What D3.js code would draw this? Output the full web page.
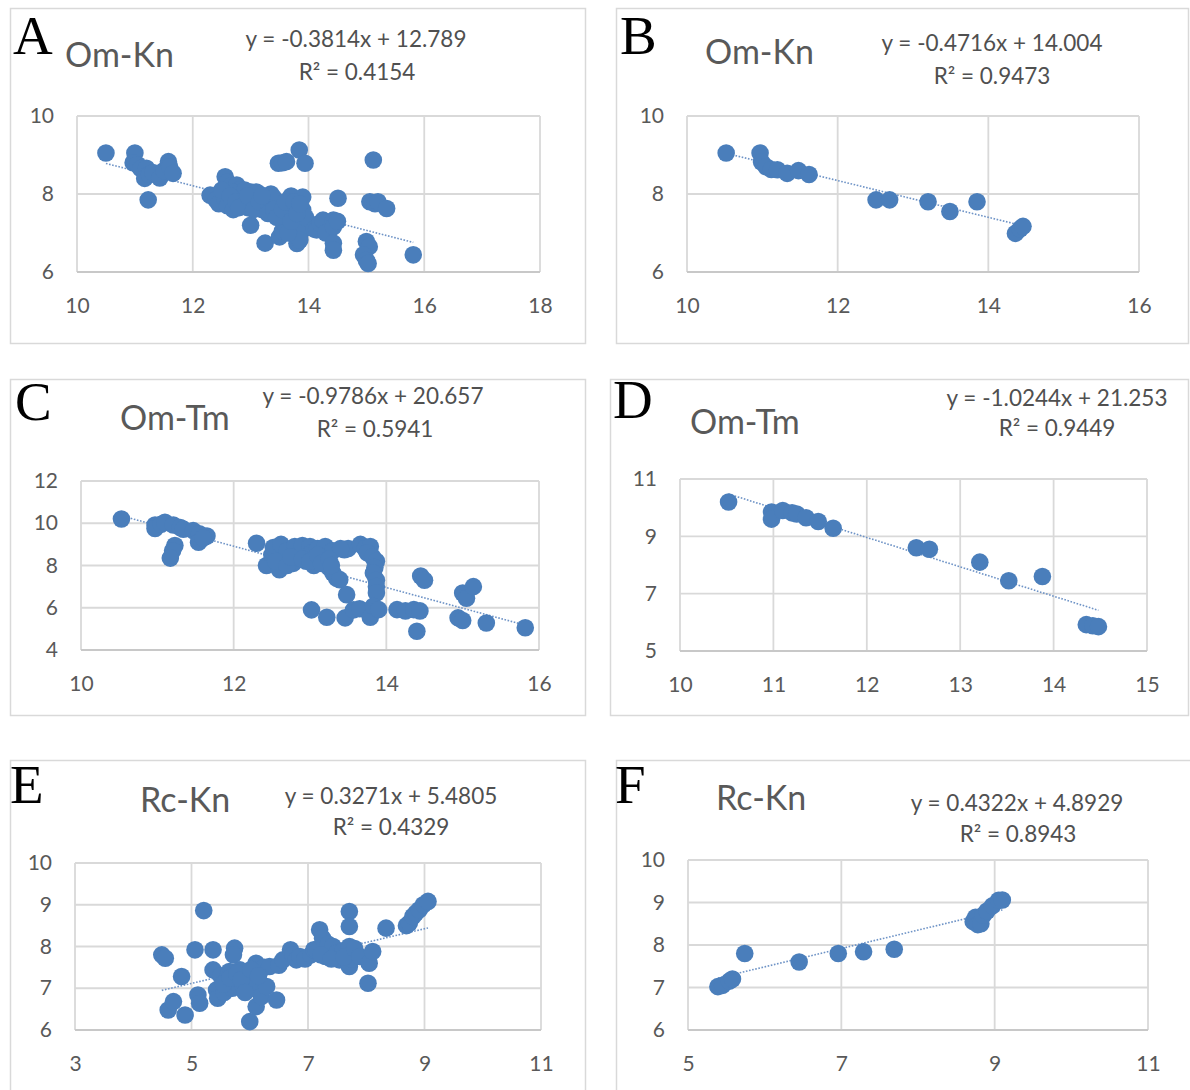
<!DOCTYPE html>
<html>
<head>
<meta charset="utf-8">
<script src="https://cdn.jsdelivr.net/npm/d3@7"></script>
<style>
  body { margin: 0; background: #fff; }
  svg { display: block; }
</style>
</head>
<body>
<svg id="mainsvg" width="1190" height="1090"></svg>
<script>
// ---- data ----
const omKnAll = [[10.5,9.05],[11.0,9.05],[10.97,8.8],[11.05,8.75],[11.1,8.65],[11.2,8.66],[11.17,8.4],[11.25,8.5],
  [11.31,8.55],[11.43,8.41],[11.5,8.6],[11.58,8.83],[11.6,8.7],[11.66,8.53],[11.23,7.85],
  [12.3,7.97],[12.4,7.85],[12.45,7.75],[12.56,8.44],[12.6,8.3],[12.65,8.2],[12.55,7.9],[12.6,7.7],[12.7,7.6],
  [12.76,8.23],[12.8,8.1],[12.85,7.95],[12.9,7.8],[12.95,7.65],[13.0,8.05],[13.05,7.9],[13.1,7.75],[13.15,8.0],
  [13.2,7.6],[13.25,7.85],[13.3,7.7],[13.35,7.55],[13.4,7.9],[13.45,7.65],[13.5,7.5],[13.0,7.2],[13.25,6.74],
  [13.5,6.9],[13.55,7.05],[13.6,7.2],[13.65,7.4],[13.7,7.95],[13.75,7.6],[13.8,7.3],[13.8,6.73],[13.85,7.0],
  [13.9,7.92],[13.9,7.59],[13.9,7.08],[13.85,6.82],[13.95,7.4],[13.48,8.79],[13.55,8.8],[13.62,8.83],[13.84,9.13],
  [13.94,8.79],[12.7,8.05],[12.9,8.1],[13.1,8.05],[13.35,8.0],
  [12.5,8.1],[12.65,7.95],[12.75,7.8],[12.8,7.65],[12.95,7.95],[13.05,7.6],[13.15,7.8],[13.2,7.95],[13.3,7.5],
  [13.4,7.6],[13.45,7.4],[13.55,7.6],[13.6,7.8],[13.65,7.0],[13.7,7.3],[13.75,7.8],[13.8,7.5],[13.85,7.75],
  [14.1,7.1],[14.14,7.08],[14.2,7.25],[14.25,7.33],[14.3,7.0],[14.43,7.33],[14.43,7.16],[14.5,7.3],[14.51,7.89],
  [14.43,6.74],[14.43,6.56],[15.0,6.78],[15.05,6.65],[14.95,6.44],[15.0,6.3],[15.03,6.22],[15.06,7.8],[15.12,8.87],
  [15.15,7.75],[15.2,7.8],[15.35,7.63],[15.81,6.44]];

const omKnSel = [[10.52,9.05],[10.97,9.05],[10.99,8.82],[11.05,8.7],[11.12,8.63],[11.2,8.62],[11.33,8.53],[11.48,8.6],
  [11.62,8.5],[12.51,7.85],[12.69,7.85],[13.2,7.8],[13.49,7.55],[13.85,7.8],[14.36,6.99],[14.42,7.1],[14.46,7.17]];

const omTmAll = [[10.53,10.2],[10.97,9.92],[10.97,9.75],[11.05,9.95],[11.1,10.05],[11.21,9.92],[11.3,9.8],[11.34,9.72],
  [11.47,9.65],[11.55,9.5],[11.65,9.4],[11.54,9.1],[11.6,9.3],[11.23,8.95],[11.2,8.7],[11.17,8.35],
  [12.3,9.05],[12.43,8.0],[12.5,8.5],[12.52,8.85],[12.6,7.8],[12.62,9.0],[12.65,8.3],[12.7,8.7],[12.78,8.1],
  [12.8,8.9],[12.85,8.5],[12.9,8.95],[12.95,8.2],[13.0,8.9],[13.02,8.6],[13.05,8.0],[13.1,8.8],[13.15,8.4],
  [13.2,8.9],[13.22,8.1],[13.25,7.9],[13.3,8.7],[13.3,7.64],[13.35,7.4],[13.39,7.33],[13.45,8.75],[13.48,6.62],
  [13.5,8.8],[13.4,8.8],[13.66,9.0],[13.72,8.8],[13.79,8.9],[13.75,8.6],[13.82,8.4],[13.87,8.2],[13.85,7.9],
  [13.83,7.64],[13.87,7.3],[13.87,7.0],[13.87,6.7],
  [12.55,8.2],[12.7,8.0],[12.75,8.4],[12.9,8.3],[13.0,8.2],[13.1,8.5],[13.15,8.1],[13.25,8.3],[13.28,8.0],
  [13.02,5.9],[13.22,5.55],[13.46,5.52],[13.57,5.9],[13.65,5.95],[13.79,5.55],[13.83,6.07],[13.9,5.91],
  [14.14,5.91],[14.25,5.85],[14.36,5.91],[14.44,5.85],[14.4,4.89],[14.45,7.5],[14.5,7.3],[15.0,6.7],[15.05,6.45],
  [15.14,7.0],[14.94,5.52],[15.0,5.4],[15.31,5.28],[15.82,5.05]];

const omTmSel = [[10.52,10.2],[10.98,9.85],[10.98,9.6],[11.1,9.9],[11.2,9.82],[11.25,9.78],[11.35,9.65],[11.48,9.52],
  [11.64,9.28],[12.53,8.6],[12.67,8.55],[13.21,8.1],[13.52,7.45],[13.88,7.6],[14.35,5.92],[14.42,5.88],[14.48,5.85]];

const rcKnAll = [[4.49,7.8],[4.55,7.72],[4.6,6.48],[4.69,6.68],[4.83,7.28],[4.89,6.36],[5.06,7.92],[5.11,6.84],
  [5.14,6.64],[5.21,8.86],[5.37,7.92],[5.37,7.44],[5.43,6.96],[5.45,6.76],[5.5,7.3],[5.56,6.9],[5.6,7.2],[5.65,7.4],
  [5.7,7.0],[5.74,7.96],[5.72,7.8],[5.79,7.1],[5.83,7.44],[5.89,7.04],[5.95,7.3],[6.0,7.28],[6.05,7.0],[6.11,7.6],
  [6.11,6.56],[6.0,6.2],[6.2,6.8],[6.25,7.5],[6.29,7.04],[6.34,7.52],[6.46,6.72],[6.5,7.55],[6.57,7.68],[6.7,7.92],
  [6.74,7.8],[6.8,7.68],[6.86,7.76],[6.95,7.7],[7.05,7.8],[7.1,7.92],[7.14,7.92],[7.2,8.4],[7.25,8.2],[7.3,7.76],
  [7.35,8.05],[7.43,8.0],[7.5,7.85],[7.54,7.68],[7.6,7.9],[7.71,8.84],[7.71,8.48],[7.71,8.0],[7.71,7.52],[7.75,7.7],
  [5.55,7.1],[5.66,7.25],[5.78,7.35],[5.85,7.2],[5.92,6.9],[6.02,7.45],[6.15,7.3],[7.22,7.8],[7.4,7.7],[7.62,7.75],
  [7.8,7.95],[7.89,7.76],[8.03,7.12],[8.05,7.6],[8.11,7.88],[8.34,8.44],[8.69,8.5],[8.74,8.56],[8.8,8.72],
  [8.85,8.8],[8.91,8.88],[8.98,9.0],[9.06,9.08]];

const rcKnSel = [[5.39,7.02],[5.45,7.05],[5.54,7.15],[5.58,7.2],[5.74,7.8],[6.45,7.6],[6.96,7.8],[7.29,7.84],[7.69,7.9],
  [8.72,8.55],[8.75,8.65],[8.78,8.48],[8.82,8.5],[8.85,8.7],[8.9,8.8],[8.97,8.92],[9.05,9.05],[9.1,9.06]];

// trendline fits as printed (A..F)
const fitSlope = [-0.3814, -0.4716, -0.9786, -1.0244, 0.3271, 0.4322];
const fitIntercept = [12.789, 14.004, 20.657, 21.253, 5.4805, 4.8929];
const fitR2 = [0.4154, 0.9473, 0.5941, 0.9449, 0.4329, 0.8943];

const panelLetters = ['A', 'B', 'C', 'D', 'E', 'F'];
const panelTitles = ['Om-Kn', 'Om-Kn', 'Om-Tm', 'Om-Tm', 'Rc-Kn', 'Rc-Kn'];

const xTicksA = [10, 12, 14, 16, 18], yTicksA = [6, 8, 10];
const xTicksB = [10, 12, 14, 16],     yTicksB = [6, 8, 10];
const xTicksC = [10, 12, 14, 16],     yTicksC = [4, 6, 8, 10, 12];
const xTicksD = [10, 11, 12, 13, 14, 15], yTicksD = [5, 7, 9, 11];
const xTicksE = [3, 5, 7, 9, 11],     yTicksE = [6, 7, 8, 9, 10];
const xTicksF = [5, 7, 9, 11],        yTicksF = [6, 7, 8, 9, 10];

// ---- layout ----
const panels = [
  {pts: omKnAll, xt: xTicksA, yt: yTicksA, frame: [10, 8, 585, 343],   plot: [77, 116, 540, 272],
   letter: [13, 54], title: [65, 67], eq: [356, 47], r2: [357, 80]},
  {pts: omKnSel, xt: xTicksB, yt: yTicksB, frame: [616, 8, 1188, 343], plot: [687, 116, 1139, 272],
   letter: [620, 54], title: [705, 64], eq: [992, 51], r2: [992, 84]},
  {pts: omTmAll, xt: xTicksC, yt: yTicksC, frame: [10, 379, 585, 715], plot: [81, 481, 539, 650],
   letter: [15, 420], title: [120, 430], eq: [373, 404], r2: [375, 437]},
  {pts: omTmSel, xt: xTicksD, yt: yTicksD, frame: [610, 379, 1188, 715], plot: [680, 479, 1147, 651],
   letter: [613, 418], title: [690, 434], eq: [1057, 406], r2: [1057, 436]},
  {pts: rcKnAll, xt: xTicksE, yt: yTicksE, frame: [10, 760, 585, 1110], plot: [75, 863, 541, 1030],
   letter: [10, 803], title: [140, 812], eq: [391, 804], r2: [391, 835]},
  {pts: rcKnSel, xt: xTicksF, yt: yTicksF, frame: [616, 760, 1210, 1110], plot: [688, 860, 1148, 1030],
   letter: [615, 803], title: [716, 810], eq: [1017, 811], r2: [1018, 842]}
];

const blue = '#4a7ebb';
const grid = '#d9d9d9';
const txt = '#595959';
const font = 'Lato, "Open Sans", sans-serif';

var svg = d3.select('#mainsvg');

panels.forEach(function (p, i) {
  var g = svg.append('g');
  var f = p.frame, r = p.plot;

  g.append('rect')
    .attr('x', f[0] + 0.5).attr('y', f[1] + 0.5)
    .attr('width', f[2] - f[0]).attr('height', f[3] - f[1])
    .attr('fill', '#fff').attr('stroke', grid).attr('stroke-width', 1.5);

  var x = d3.scaleLinear().domain(d3.extent(p.xt)).range([r[0], r[2]]);
  var y = d3.scaleLinear().domain(d3.extent(p.yt)).range([r[3], r[1]]);

  // gridlines
  g.append('g').selectAll('line').data(p.xt).join('line')
    .attr('x1', d => x(d)).attr('x2', d => x(d))
    .attr('y1', r[1]).attr('y2', r[3])
    .attr('stroke', grid).attr('stroke-width', 1.8);
  g.append('g').selectAll('line').data(p.yt).join('line')
    .attr('x1', r[0]).attr('x2', r[2])
    .attr('y1', d => y(d)).attr('y2', d => y(d))
    .attr('stroke', d => d === p.yt[0] ? '#c8c8c8' : grid).attr('stroke-width', 1.8);

  // axes (labels only)
  var xa = g.append('g').attr('transform', 'translate(0,' + r[3] + ')')
    .call(d3.axisBottom(x).tickValues(p.xt).tickSize(0).tickPadding(26).tickFormat(d3.format('d')));
  var ya = g.append('g').attr('transform', 'translate(' + r[0] + ',0)')
    .call(d3.axisLeft(y).tickValues(p.yt).tickSize(0).tickPadding(23).tickFormat(d3.format('d')));
  [xa, ya].forEach(function (a) {
    a.select('.domain').remove();
    a.selectAll('text').attr('fill', txt).style('font-family', font).style('font-size', '21px');
  });

  // trendline over the data range
  var xr = d3.extent(p.pts, d => d[0]);
  g.append('line')
    .attr('x1', x(xr[0])).attr('y1', y(fitSlope[i] * xr[0] + fitIntercept[i]))
    .attr('x2', x(xr[1])).attr('y2', y(fitSlope[i] * xr[1] + fitIntercept[i]))
    .attr('stroke', '#6e93c6').attr('stroke-width', 1.6).attr('stroke-dasharray', '1.6,1.6');

  // points
  g.append('g').selectAll('circle').data(p.pts).join('circle')
    .attr('cx', d => x(d[0])).attr('cy', d => y(d[1]))
    .attr('r', 8.8).attr('fill', blue);

  // texts
  g.append('text').attr('x', p.letter[0]).attr('y', p.letter[1])
    .style('font-family', '"Liberation Serif", "Times New Roman", serif').style('font-size', '55px')
    .attr('fill', '#000').text(panelLetters[i]);
  g.append('text').attr('x', p.title[0]).attr('y', p.title[1])
    .style('font-family', font).style('font-size', '34px').attr('fill', txt).text(panelTitles[i]);
  var sign = fitIntercept[i] < 0 ? ' - ' : ' + ';
  g.append('text').attr('x', p.eq[0]).attr('y', p.eq[1]).attr('text-anchor', 'middle')
    .style('font-family', font).style('font-size', '22.5px').attr('fill', '#505050')
    .text('y = ' + fitSlope[i] + 'x' + sign + Math.abs(fitIntercept[i]));
  g.append('text').attr('x', p.r2[0]).attr('y', p.r2[1]).attr('text-anchor', 'middle')
    .style('font-family', font).style('font-size', '22.5px').attr('fill', '#505050')
    .text('R\u00b2 = ' + fitR2[i]);
});
</script>
</body>
</html>
